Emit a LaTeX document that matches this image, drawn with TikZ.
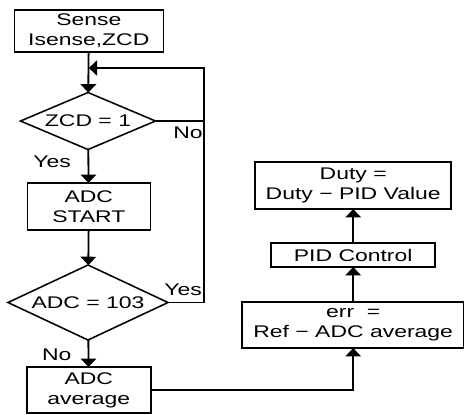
\documentclass[tikz,border=0pt]{standalone}
\usepackage{fontspec}
\setmainfont{Liberation Sans}[FakeStretch=1.36]
\usetikzlibrary{shapes.geometric,arrows.meta}
\tikzset{
  box/.style={draw, line width=1.1pt, align=center, inner sep=0pt, outer sep=0pt},
  test/.style={draw, diamond, line width=1.1pt, align=center, inner sep=0pt, outer sep=0pt},
  line/.style={line width=1.3pt},
  arr/.style={line width=1.3pt, -{Triangle[width=11pt,length=6pt]}},
  lbl/.style={inner sep=0pt}
}
\begin{document}
\begin{tikzpicture}[font=\fontsize{12}{14.2}\selectfont]
\useasboundingbox (0,0) rectangle (11.6,-10.35);
% left column
\node[box, minimum width=3.725cm, minimum height=1.05cm] (sense) at (2.22,-0.775) {Sense\\Isense,ZCD};
\node[test, aspect=2.37, minimum width=3.375cm, minimum height=1.425cm] (zcd) at (2.2,-3.025) {ZCD = 1};
\node[box, minimum width=3.075cm, minimum height=1.175cm] (start) at (2.22,-5.1625) {ADC\\START};
\node[test, aspect=2.13, minimum width=4.0cm, minimum height=1.875cm] (adc) at (2.2,-7.5625) {ADC = 103};
\node[box, minimum width=3.1cm, minimum height=1.15cm] (avg) at (2.22,-9.75) {ADC\\average};
% right column
\node[box, minimum width=5.55cm, minimum height=1.15cm] (err) at (8.83,-8.125) {err~~=\\Ref − ADC average};
\node[box, minimum width=4.1cm, minimum height=0.6cm] (pid) at (8.83,-6.375) {PID Control};
\node[box, minimum width=4.9cm, minimum height=1.175cm] (duty) at (8.83,-4.6375) {Duty =\\Duty − PID Value};
\coordinate (fb) at (5.1,-1.7);
%%%%
\draw[arr] (sense) -- (zcd);
\draw[arr] (zcd) -- (start);
\draw[arr] (start) -- (adc);
\draw[arr] (adc) -- (avg);
\draw[line] (zcd.east) -- (zcd.east -| fb);
\draw[arr] (adc.east) -| (fb) -- (fb -| sense.south);
\draw[arr] (avg.east) -| (err.south);
\draw[arr] (err) -- (pid);
\draw[arr] (pid) -- (duty);
\node[lbl] (no1) at (4.7,-3.33) {No};
\node[lbl] (yes1) at (1.3,-4.05) {Yes};
\node[lbl] (yes2) at (4.58,-7.25) {Yes};
\node[lbl] (no2) at (1.42,-8.88) {No};
\end{tikzpicture}
\end{document}
